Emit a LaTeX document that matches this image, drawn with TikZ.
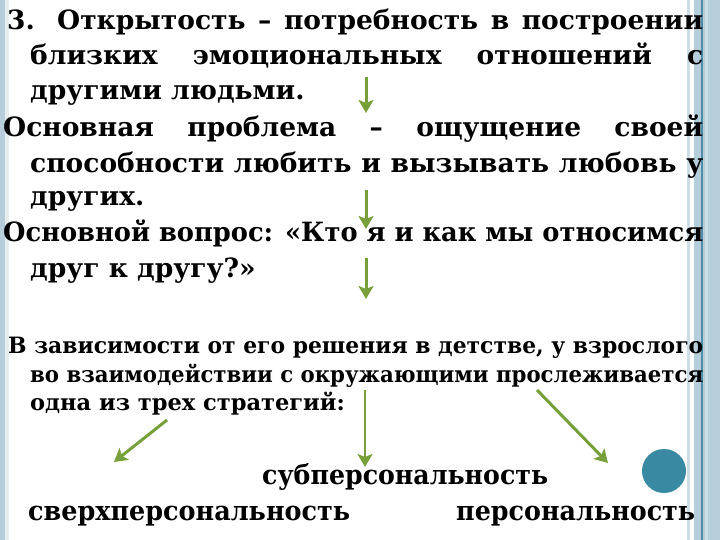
\documentclass[tikz,border=0pt]{standalone}
\usepackage{fontspec}
\setmainfont{DejaVu Serif}
\usetikzlibrary{arrows.meta}
\definecolor{arrowgreen}{HTML}{77A03A}
\definecolor{dotblue}{HTML}{3A89A3}
\definecolor{bandblue}{HTML}{B6CEDA}
\definecolor{bandlight}{HTML}{CCDDE5}
\definecolor{bandpale}{HTML}{E6EEF2}
\definecolor{banddark}{HTML}{4F8CA8}
\newlength\natw
\newcommand\fitto[2]{\settowidth\natw{#2}\ifdim\natw>#1\relax\pgfmathsetmacro\sx{(#1)/\natw}\scalebox{\sx}[1]{#2}\else\makebox[#1][s]{#2}\fi}
\newcommand\scaleto[2]{\settowidth\natw{#2}\pgfmathsetmacro\sx{(#1)/\natw}\scalebox{\sx}[1]{#2}}
\tikzset{
  bigline/.style={anchor=base west, inner sep=0pt, font=\bfseries\fontsize{26.5}{30}\selectfont},
  midline/.style={anchor=base west, inner sep=0pt, font=\bfseries\fontsize{22.5}{25}\selectfont},
  label/.style={anchor=base west, inner sep=0pt, font=\bfseries\fontsize{27}{30}\selectfont},
  garrow/.style={draw=arrowgreen, line width=3pt, -{Stealth[length=13pt,width=15pt,inset=3pt]}}
}
\begin{document}
\begin{tikzpicture}[x=1pt,y=-1pt]
\useasboundingbox (0,0) rectangle (720,540);
\fill[white] (0,0) rectangle (720,540);
% left band
\fill[bandblue] (0,0) rectangle (5,540);
\fill[bandpale] (5,0) rectangle (8.5,540);
% right band
\fill[bandlight] (687,0) rectangle (689.5,540);
\fill[bandblue] (693.5,0) rectangle (701,540);
\fill[banddark] (701,0) rectangle (702.5,540);
\fill[bandblue] (702.5,0) rectangle (720,540);
\fill[bandlight] (705,0) rectangle (708,540);

% block 1
\node[bigline] (l1) at (7,30) {\fitto{696pt}{3. Открытость – потребность в построении}};
\node[bigline] (l2) at (30,65) {\fitto{673pt}{близких эмоциональных отношений с}};
\node[bigline] (l3) at (30,100) {другими людьми.};
\node[bigline] (l4) at (3,137) {\fitto{700pt}{Основная проблема – ощущение своей}};
\node[bigline] (l5) at (30,173) {\fitto{673pt}{способности любить и вызывать любовь у}};
\node[bigline] (l6) at (30,206) {других.};
\node[bigline] (l7) at (3,241) {\fitto{700pt}{Основной вопрос: «Кто я и как мы относимся}};
\node[bigline] (l8) at (30,277) {друг к другу?»};

% block 2
\node[midline] (m1) at (8,353) {\fitto{695pt}{В зависимости от его решения в детстве, у взрослого}};
\node[midline] (m2) at (30,382) {\fitto{673pt}{во взаимодействии с окружающими прослеживается}};
\node[midline] (m3) at (30,410) {одна из трех стратегий:};

% labels
\node[label] (sub) at (262,484) {\scaleto{286pt}{субперсональность}};
\node[label] (sup) at (28,520) {\scaleto{322pt}{сверхперсональность}};
\node[label] (per) at (456,520) {\scaleto{239pt}{персональность}};

% dot
\node[circle, fill=dotblue, minimum size=44pt, inner sep=0pt] (dot) at (664,471) {};

% arrows
\coordinate (a1s) at (366,77);  \coordinate (a1e) at (366,113);
\coordinate (a2s) at (366,190); \coordinate (a2e) at (366,229);
\coordinate (a3s) at (366,258); \coordinate (a3e) at (366,299);
\coordinate (a4s) at (167,420); \coordinate (a4e) at (114,462);
\coordinate (a5s) at (365,390); \coordinate (a5e) at (365,467);
\coordinate (a6s) at (537,390); \coordinate (a6e) at (608,463);
\draw[garrow] (a1s) -- (a1e);
\draw[garrow] (a2s) -- (a2e);
\draw[garrow] (a3s) -- (a3e);
\draw[garrow] (a4s) -- (a4e);
\draw[garrow, line width=2pt] (a5s) -- (a5e);
\draw[garrow] (a6s) -- (a6e);
\end{tikzpicture}
\end{document}
